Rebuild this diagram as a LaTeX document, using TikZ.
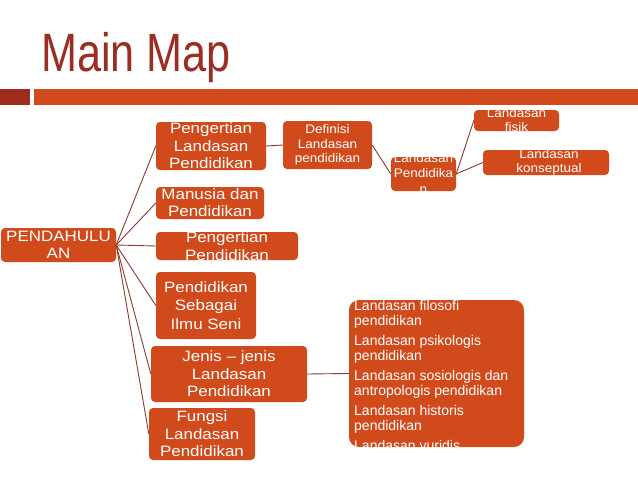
\documentclass[tikz,border=0pt]{standalone}
\usepackage{fontspec}
\setmainfont{Liberation Sans}
\newfontfamily\titlefont[FakeStretch=0.8]{Liberation Sans}
\newfontfamily\wfont[FakeStretch=1.13]{Liberation Sans}
\newfontfamily\sfont[FakeStretch=1.08]{Liberation Sans}
\definecolor{boxc}{RGB}{209,74,27}
\definecolor{titlec}{RGB}{155,45,35}
\definecolor{barc}{RGB}{209,74,27}
\definecolor{barl}{RGB}{158,44,30}
\definecolor{linec}{RGB}{140,58,42}
\begin{document}
\begin{tikzpicture}[x=1pt,y=-1pt,
  box/.style={fill=boxc, rounded corners=4pt, inner sep=0pt, draw=none},
  bigtxt/.style={text=white, align=center, inner sep=0pt, font=\wfont\fontsize{15}{17.5}\selectfont},
  smalltxt/.style={text=white, align=center, inner sep=0pt, font=\sfont\fontsize{12.5}{14.5}\selectfont},
  link/.style={draw=linec, line width=0.9pt}]
\useasboundingbox (0,0) rectangle (638,479);
\fill[white] (0,0) rectangle (638,479);
% title and bar
\node[anchor=base west, text=titlec, inner sep=0pt, font=\titlefont\fontsize{54}{60}\selectfont] (title) at (41,71) {Main Map};
\fill[barl] (0,89) rectangle (30,105);
\fill[barc] (34,89) rectangle (638,105);
% boxes
\node[box, minimum width=115pt, minimum height=34pt] (pend) at (58.5,245) {};
\node[box, minimum width=110pt, minimum height=48pt] (pl) at (211,146) {};
\node[box, minimum width=89pt, minimum height=48pt] (def) at (327.5,145) {};
\node[box, minimum width=108pt, minimum height=32pt] (man) at (210,203) {};
\node[box, minimum width=142pt, minimum height=28pt] (pp) at (227,246) {};
\node[box, minimum width=100pt, minimum height=67pt] (ps) at (206,305.5) {};
\node[box, minimum width=156pt, minimum height=56pt] (jen) at (229,374) {};
\node[box, minimum width=106pt, minimum height=52pt] (fun) at (202,434) {};
\node[box, rounded corners=10pt, minimum width=175pt, minimum height=147pt] (list) at (436.5,373.5) {};
\node[box, minimum width=65pt, minimum height=34pt] (lp) at (423.5,174) {};
\node[box, minimum width=85pt, minimum height=21pt] (fis) at (516.5,120.5) {};
\node[box, minimum width=126pt, minimum height=25pt] (kon) at (546,162.5) {};
% texts
\node[bigtxt, font=\wfont\fontsize{15}{17}\selectfont] (tpend) at (pend.center) {PENDAHULU\\AN};
\node[bigtxt] (tpl) at (pl.center) {Pengertian\\Landasan\\Pendidikan};
\node[smalltxt] (tdef) at (def.center) {Definisi\\Landasan\\pendidikan};
\node[bigtxt, font=\wfont\fontsize{15}{17}\selectfont] (tman) at (man.center) {Manusia dan\\Pendidikan};
\node[bigtxt] (tpp) at (pp.center) {Pengertian\\Pendidikan};
\node[bigtxt, font=\wfont\fontsize{15}{18.5}\selectfont] (tps) at (ps.center) {Pendidikan\\Sebagai\\Ilmu Seni};
\node[bigtxt] (tjen) at (jen.center) {Jenis – jenis\\Landasan\\Pendidikan};
\node[bigtxt] (tfun) at (fun.center) {Fungsi\\Landasan\\Pendidikan};
\node[smalltxt, font=\sfont\fontsize{12.5}{15.5}\selectfont] (tlp) at ([yshift=1pt]lp.center) {Landasan\\Pendidika\\n};
\node[smalltxt, font=\sfont\fontsize{12.5}{14}\selectfont] (tfis) at (fis.center) {Landasan\\fisik};
\node[smalltxt, font=\sfont\fontsize{12.5}{14}\selectfont] (tkon) at ([xshift=3pt]kon.center) {Landasan\\konseptual};
\node[anchor=north west, text=white, align=left, inner sep=0pt, font=\fontsize{14}{15}\selectfont] (tlist) at (354,300)
  {Landasan filosofi\\pendidikan\\[5pt]Landasan psikologis\\pendidikan\\[5pt]Landasan sosiologis dan\\antropologis pendidikan\\[5pt]Landasan historis\\pendidikan\\[5pt]Landasan yuridis};
% connectors
\foreach \c in {pl,man,pp,ps,jen,fun} \draw[link] (pend.east) -- (\c.west);
\draw[link] (pl.east) -- (def.west);
\draw[link] (def.east) -- (lp.west);
\draw[link] (lp.east) -- (fis.west);
\draw[link] (lp.east) -- (kon.west);
\draw[link] (jen.east) -- (list.west);
\end{tikzpicture}
\end{document}
